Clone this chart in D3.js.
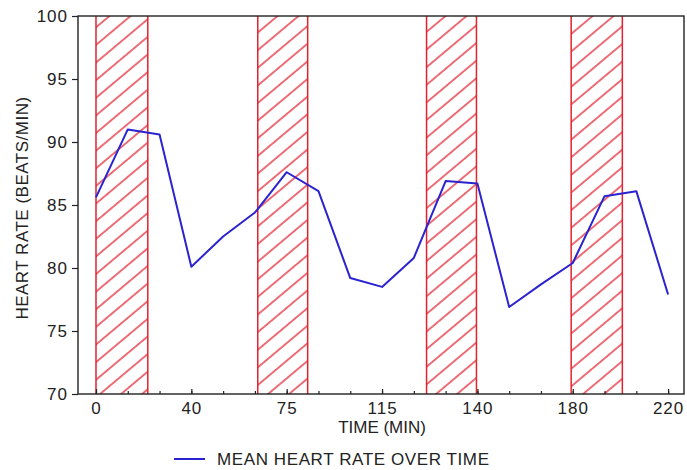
<!DOCTYPE html>
<html>
<head>
<meta charset="utf-8">
<script src="https://cdn.jsdelivr.net/npm/d3@7"></script>
<style>
  body { margin: 0; background: #fff; }
  svg { display: block; font-family: "Liberation Sans", Arial, sans-serif; }
</style>
</head>
<body>
<svg id="chart"></svg>
<script>
// mean heart rate, one sample per minor tick
var heartRate = [85.6, 91.0, 90.6, 80.1, 82.5, 84.4, 87.6, 86.1, 79.2, 78.5,
                 80.8, 86.9, 86.7, 76.9, 78.7, 80.4, 85.7, 86.1, 77.9];
// tick labels, one every 3 samples
var timeLabels = ['0', '40', '75', '115', '140', '180', '220'];
var rateTicks = [70, 75, 80, 85, 90, 95, 100];
// shaded periods, in sample units
var bandStart = [0, 5.09, 10.4, 14.95];
var bandEnd = [1.63, 6.66, 11.97, 16.56];

var svgWidth = 687, svgHeight = 470;
var margin = { top: 16, right: 3, bottom: 76, left: 78 };
var width = svgWidth - margin.left - margin.right;
var height = svgHeight - margin.top - margin.bottom;

var svg = d3.select('#chart')
    .attr('width', svgWidth)
    .attr('height', svgHeight);

var defs = svg.append('defs');
var pat = defs.append('pattern')
    .attr('id', 'hatch')
    .attr('patternUnits', 'userSpaceOnUse')
    .attr('width', 13.5)
    .attr('height', 13.5)
    .attr('patternTransform', 'rotate(-40)');
pat.append('line')
    .attr('x1', 0).attr('x2', 13.5)
    .attr('y1', 6.75).attr('y2', 6.75)
    .attr('stroke', '#e2202f')
    .attr('stroke-width', 1.3);

var g = svg.append('g')
    .attr('transform', 'translate(' + margin.left + ',' + margin.top + ')');

var x = d3.scaleLinear().domain([-0.566, 18.5]).range([0, width]);
var y = d3.scaleLinear().domain([70, 100]).range([height, 0]);

var red = '#e3212f';
var bands = bandStart.map(function (s, i) { return { s: s, e: bandEnd[i] }; });

g.selectAll('.band')
    .data(bands)
    .enter().append('rect')
    .attr('class', 'band')
    .attr('x', d => x(d.s))
    .attr('width', d => x(d.e) - x(d.s))
    .attr('y', 0)
    .attr('height', height)
    .attr('fill', 'url(#hatch)');

g.selectAll('.bandEdge')
    .data(bands.flatMap(d => [d.s, d.e]))
    .enter().append('line')
    .attr('class', 'bandEdge')
    .attr('x1', d => x(d)).attr('x2', d => x(d))
    .attr('y1', 0).attr('y2', height)
    .attr('stroke', red)
    .attr('stroke-width', 1.5);

// frame
g.append('rect')
    .attr('width', width)
    .attr('height', height)
    .attr('fill', 'none')
    .attr('stroke', '#222')
    .attr('stroke-width', 1.4);

// y axis
var yAxis = d3.axisLeft(y).tickValues(rateTicks).tickSize(6).tickPadding(4);
var ya = g.append('g').call(yAxis);
ya.select('.domain').remove();
ya.selectAll('line').attr('stroke', '#222').attr('stroke-width', 1.2);
ya.selectAll('text')
    .attr('fill', '#222')
    .style('font-size', '17px')
    .style('letter-spacing', '1px');

// x axis: minor ticks every sample, labels every third
var minor = d3.range(heartRate.length);
var xMinor = d3.axisBottom(x).tickValues(minor).tickSize(-3).tickFormat('');
var xm = g.append('g')
    .attr('transform', 'translate(0,' + height + ')')
    .call(xMinor);
xm.select('.domain').remove();
xm.selectAll('line').attr('stroke', '#222').attr('stroke-width', 1.2);

var xMajor = d3.axisBottom(x)
    .tickValues(timeLabels.map((d, i) => i * 3))
    .tickFormat((d, i) => timeLabels[i])
    .tickSizeInner(-5).tickSizeOuter(0).tickPadding(8);
var xa = g.append('g')
    .attr('transform', 'translate(0,' + height + ')')
    .call(xMajor);
xa.select('.domain').remove();
xa.selectAll('line').attr('stroke', '#222').attr('stroke-width', 1.2);
xa.selectAll('text')
    .attr('fill', '#222')
    .style('font-size', '17px')
    .style('letter-spacing', '1px');

// heart rate line
var line = d3.line()
    .x((d, i) => x(i))
    .y(d => y(d));

g.append('path')
    .datum(heartRate)
    .attr('fill', 'none')
    .attr('stroke', '#2b23cf')
    .attr('stroke-width', 2)
    .attr('stroke-linejoin', 'round')
    .attr('d', line);

// axis titles
g.append('text')
    .attr('x', x(9))
    .attr('y', height + 39)
    .attr('text-anchor', 'middle')
    .attr('fill', '#222')
    .style('font-size', '17px')
    .text('TIME (MIN)');

svg.append('text')
    .attr('transform', 'translate(28,' + (margin.top + height / 2 + 3) + ') rotate(-90)')
    .attr('text-anchor', 'middle')
    .attr('fill', '#222')
    .style('font-size', '17px')
    .style('letter-spacing', '0.5px')
    .text('HEART RATE (BEATS/MIN)');

// legend
var legend = svg.append('g').attr('transform', 'translate(174,459)');
legend.append('line')
    .attr('x1', 0).attr('x2', 31)
    .attr('y1', 0).attr('y2', 0)
    .attr('stroke', '#2b23cf')
    .attr('stroke-width', 2);
legend.append('text')
    .attr('x', 43)
    .attr('y', 6)
    .attr('fill', '#222')
    .style('font-size', '17px')
    .style('letter-spacing', '0.6px')
    .text('MEAN HEART RATE OVER TIME');
</script>
</body>
</html>
